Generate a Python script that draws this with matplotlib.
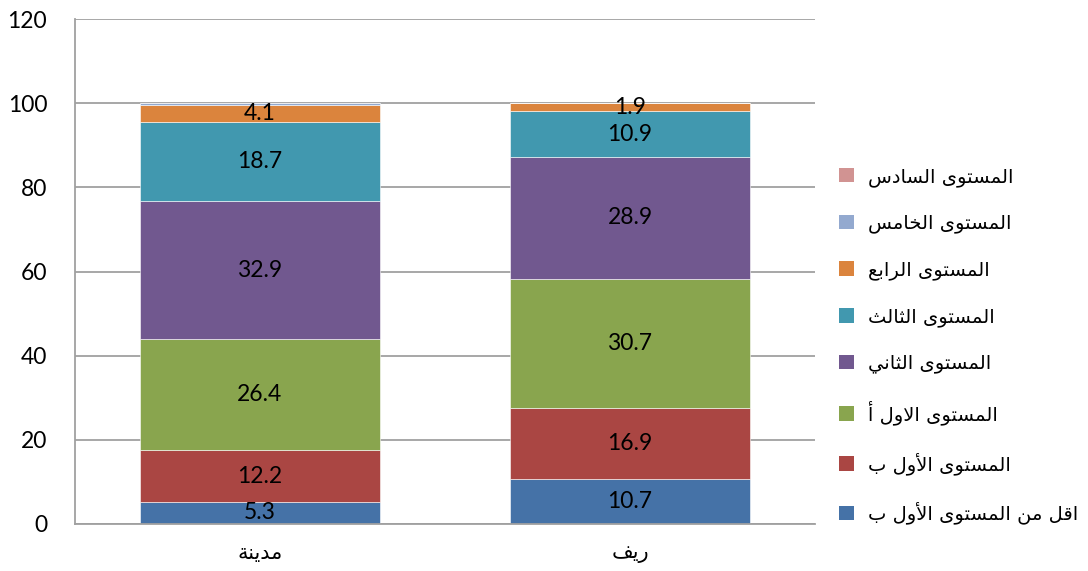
import numpy as np
from matplotlib import pyplot as plt
from matplotlib.patches import Patch

# --- data ---
categories = ['مدينة', 'ريف']
series_names = ['اقل من المستوى الأول ب', 'المستوى الأول ب', 'المستوى الاول أ',
                'المستوى الثاني', 'المستوى الثالث', 'المستوى الرابع',
                'المستوى الخامس', 'المستوى السادس']
city = [5.3, 12.2, 26.4, 32.9, 18.7, 4.1, 0.4, 0.0]
rural = [10.7, 16.9, 30.7, 28.9, 10.9, 1.9, 0.0, 0.0]
labelled = [True, True, True, True, True, True, False, False]
colors = ['#4572A7', '#AA4643', '#89A54E', '#71588F',
          '#4198AF', '#DB843D', '#93A9CF', '#D19392']
yticks = [0, 20, 40, 60, 80, 100, 120]

# --- minimal arabic shaping (matplotlib has no bidi / joining) ---
# letter: (isolated, final, initial, medial)
FORMS = {
    '\u0627': ('\uFE8D', '\uFE8E', None, None),
    '\u0623': ('\uFE83', '\uFE84', None, None),
    '\u0628': ('\uFE8F', '\uFE90', '\uFE91', '\uFE92'),
    '\u0629': ('\uFE93', '\uFE94', None, None),
    '\u062A': ('\uFE95', '\uFE96', '\uFE97', '\uFE98'),
    '\u062B': ('\uFE99', '\uFE9A', '\uFE9B', '\uFE9C'),
    '\u062E': ('\uFEA5', '\uFEA6', '\uFEA7', '\uFEA8'),
    '\u062F': ('\uFEA9', '\uFEAA', None, None),
    '\u0631': ('\uFEAD', '\uFEAE', None, None),
    '\u0633': ('\uFEB1', '\uFEB2', '\uFEB3', '\uFEB4'),
    '\u0639': ('\uFEC9', '\uFECA', '\uFECB', '\uFECC'),
    '\u0641': ('\uFED1', '\uFED2', '\uFED3', '\uFED4'),
    '\u0642': ('\uFED5', '\uFED6', '\uFED7', '\uFED8'),
    '\u0644': ('\uFEDD', '\uFEDE', '\uFEDF', '\uFEE0'),
    '\u0645': ('\uFEE1', '\uFEE2', '\uFEE3', '\uFEE4'),
    '\u0646': ('\uFEE5', '\uFEE6', '\uFEE7', '\uFEE8'),
    '\u0648': ('\uFEED', '\uFEEE', None, None),
    '\u0649': ('\uFEEF', '\uFEF0', None, None),
    '\u064A': ('\uFEF1', '\uFEF2', '\uFEF3', '\uFEF4'),
}
LAM_ALEF = {'\u0627': ('\uFEFB', '\uFEFC'), '\u0623': ('\uFEF7', '\uFEF8')}


def shape(text):
    tokens = []
    i = 0
    while i < len(text):
        c = text[i]
        if c == '\u0644' and i + 1 < len(text) and text[i + 1] in LAM_ALEF:
            tokens.append(('lig', text[i + 1]))
            i += 2
        else:
            tokens.append(c)
            i += 1

    def joins_left(t):  # can connect to the following letter
        return isinstance(t, str) and t in FORMS and FORMS[t][2] is not None

    def is_letter(t):
        return isinstance(t, tuple) or t in FORMS

    out = []
    for k, t in enumerate(tokens):
        prev = tokens[k - 1] if k > 0 else None
        nxt = tokens[k + 1] if k + 1 < len(tokens) else None
        jp = prev is not None and joins_left(prev)
        if isinstance(t, tuple):
            iso, fin = LAM_ALEF[t[1]]
            out.append(fin if jp else iso)
            continue
        if t not in FORMS:
            out.append(t)
            continue
        iso, fin, ini, med = FORMS[t]
        jn = ini is not None and nxt is not None and is_letter(nxt)
        if jp and jn:
            out.append(med)
        elif jp:
            out.append(fin)
        elif jn:
            out.append(ini)
        else:
            out.append(iso)
    return ''.join(out)[::-1]


arabic_font = ['DejaVu Sans']
num_font = ['Lato', 'DejaVu Sans']

fig = plt.figure(figsize=(10.88, 5.71), dpi=100)
ax = fig.add_axes([75 / 1088, 47 / 571, 740 / 1088, 505 / 571])

x = np.arange(len(categories))
width = 0.646
data = np.array([city, rural]).T
bottom = np.zeros(len(categories))
handles = []
for name, vals, col, lab in zip(series_names, data, colors, labelled):
    bars = ax.bar(x, vals, width, bottom=bottom, color=col, zorder=3,
                  edgecolor='white', linewidth=0.4)
    if lab:
        for xi, v, b in zip(x, vals, bottom):
            ax.text(xi, b + v / 2, '{:.1f}'.format(v), ha='center', va='center',
                    fontsize=16.5, family=num_font, color='black', zorder=4)
    bottom += vals
    handles.append(Patch(facecolor=col, label=shape(name)))

ax.set_xlim(-0.5, 1.5)
ax.set_ylim(0, 120)
ax.set_yticks(yticks)
ax.set_yticklabels([str(t) for t in yticks], family=num_font, fontsize=16.5)
ax.set_xticks(x)
ax.set_xticklabels([shape(c) for c in categories], family=arabic_font, fontsize=15)
ax.tick_params(axis='y', length=0, pad=20)
ax.tick_params(axis='x', length=0, pad=14)
ax.grid(axis='y', color='#A0A0A0', linewidth=1.3, zorder=0)
for s in ['top', 'right']:
    ax.spines[s].set_visible(False)
for s in ['left', 'bottom']:
    ax.spines[s].set_color('#A0A0A0')
    ax.spines[s].set_linewidth(1.3)
    ax.spines[s].set_zorder(5)

leg = ax.legend(handles=handles[::-1], loc='upper left',
                bbox_to_anchor=(839 / 1088, 1 - 167 / 571),
                bbox_transform=fig.transFigure, frameon=False,
                prop={'family': arabic_font, 'size': 14},
                handlelength=0.77, handleheight=0.77, handletextpad=0.7,
                labelspacing=1.39, borderaxespad=0, borderpad=0)

fig.savefig('out.png', dpi=100)
